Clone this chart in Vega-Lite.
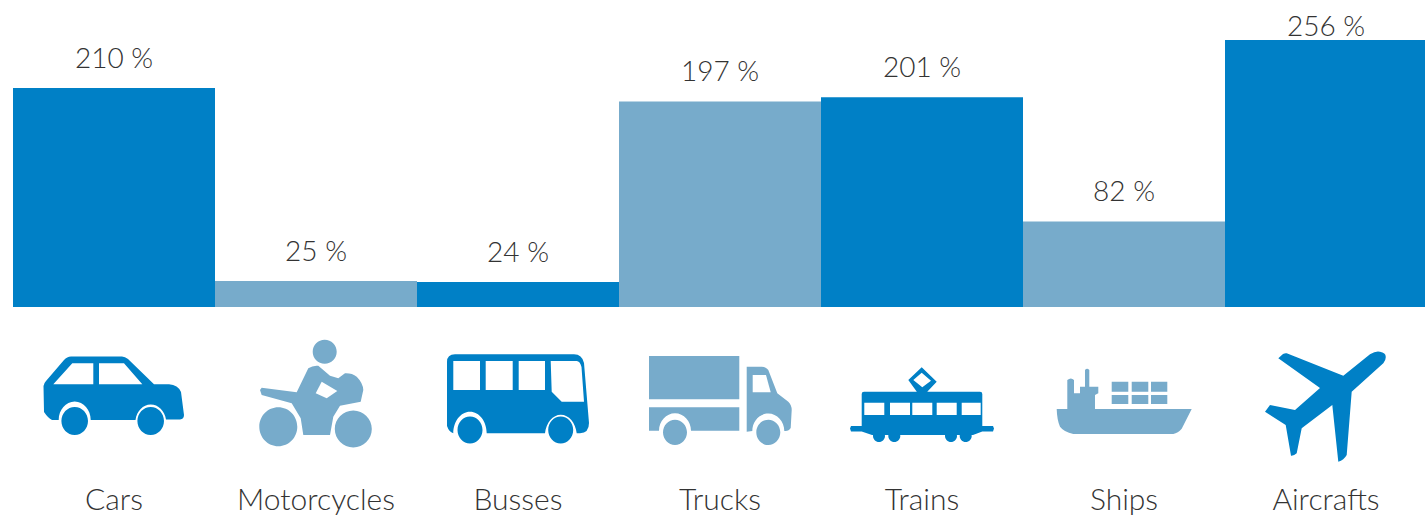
{
  "$schema": "https://vega.github.io/schema/vega-lite/v6.json",
  "autosize": {"type": "none"},
  "padding": {"left": 0, "top": 0, "right": 0, "bottom": 212},
  "width": 1425,
  "height": 307,
  "background": "#ffffff",
  "view": {"stroke": null},
  "data": {
    "values": [
      {"category": "Cars", "value": 210, "label": "210 %"},
      {"category": "Motorcycles", "value": 25, "label": "25 %"},
      {"category": "Busses", "value": 24, "label": "24 %"},
      {"category": "Trucks", "value": 197, "label": "197 %"},
      {"category": "Trains", "value": 201, "label": "201 %"},
      {"category": "Ships", "value": 82, "label": "82 %"},
      {"category": "Aircrafts", "value": 256, "label": "256 %"}
    ]
  },
  "encoding": {
    "x": {
      "field": "category",
      "type": "nominal",
      "sort": null,
      "scale": {"range": [13, 1427], "paddingInner": 0, "paddingOuter": 0, "round": false},
      "axis": {
        "title": null,
        "domain": false,
        "ticks": false,
        "grid": false,
        "labelAngle": 0,
        "labelPadding": 193,
        "labelFont": "Lato",
        "labelFontSize": 30,
        "labelFontWeight": 300,
        "labelColor": "#333333",
        "labelOverlap": false,
        "labelBaseline": "middle"
      }
    },
    "color": {
      "field": "category",
      "type": "nominal",
      "legend": null,
      "scale": {
        "domain": ["Cars", "Motorcycles", "Busses", "Trucks", "Trains", "Ships", "Aircrafts"],
        "range": ["#0080c6", "#77abcb", "#0080c6", "#77abcb", "#0080c6", "#77abcb", "#0080c6"]
      }
    }
  },
  "layer": [
    {
      "mark": {"type": "bar"},
      "encoding": {
        "y": {
          "field": "value",
          "type": "quantitative",
          "axis": null,
          "scale": {"domain": [0, 294.3], "nice": false, "zero": false}
        }
      }
    },
    {
      "transform": [{"filter": "datum.category !== 'Aircrafts'"}],
      "mark": {"type": "text", "font": "Lato", "fontSize": 28, "fontWeight": 300, "baseline": "middle", "dy": -28},
      "encoding": {
        "y": {"field": "value", "type": "quantitative"},
        "text": {"field": "label"},
        "color": {"value": "#333333"}
      }
    },
    {
      "transform": [{"filter": "datum.category === 'Aircrafts'"}],
      "mark": {"type": "text", "font": "Lato", "fontSize": 28, "fontWeight": 300, "baseline": "middle", "dy": -12},
      "encoding": {
        "y": {"field": "value", "type": "quantitative"},
        "text": {"field": "label"},
        "color": {"value": "#333333"}
      }
    },
    {
      "mark": {"type": "point", "filled": true, "size": 4, "opacity": 1, "strokeWidth": 0, "clip": false},
      "encoding": {
        "y": {"datum": -89.2, "type": "quantitative"},
        "shape": {
          "field": "category",
          "type": "nominal",
          "legend": null,
          "scale": {
            "domain": ["Cars", "Motorcycles", "Busses", "Trucks", "Trains", "Ships", "Aircrafts"],
            "range": [
              "M-70.5,-14Q-70,-17 -68,-19L-50,-40Q-47,-43.5 -43,-43.5L8,-43.5Q11,-43.5 14,-41L40,-15.7L55,-15.7Q64,-15 67,-8L70,15Q70,19 66,19.5L52,19.5A15.5,18.5 0 0 0 21.5,20L-23.3,20A16,18.5 0 0 0 -55.3,20L-62,20Q-66,18 -70,12ZM-52.6,21A13.3,14 0 1 1 -26,21A13.3,14 0 1 1 -52.6,21ZM23.4,21A13.3,14 0 1 1 50,21A13.3,14 0 1 1 23.4,21Z",
              "M-56,-10L-54.3,-12.3L-19.3,-7.7L-7.7,-31.7Q-3,-35 2.3,-34.3L14,-24.3L22.3,-21.7L29,-26.7Q36,-27 40.7,-23.3Q47,-17 47.3,-10L44.7,1.7L24,5.7L17.3,16.7L14,35L-12.7,35L-15.3,18.3L-24.3,3.3L-54.3,-5ZM-3.3,-48.3A12,12 0 1 1 20.7,-48.3A12,12 0 1 1 -3.3,-48.3ZM-56.7,26.7A19,19.5 0 1 1 -18.7,26.7A19,19.5 0 1 1 -56.7,26.7ZM18.8,29A18.5,18.5 0 1 1 55.8,29A18.5,18.5 0 1 1 18.8,29Z",
              "M-71,-38Q-71,-45.7 -63,-45.7L56,-45.7Q64,-45.7 66,-37L71,23Q71,33 62,33.3L58.7,33.3A16,21.6 0 0 0 27,33.3L-31.3,33.3A16.7,21.6 0 0 0 -64.7,33.3Q-69,32 -71,26ZM-60.5,30A12.5,13.5 0 1 1 -35.5,30A12.5,13.5 0 1 1 -60.5,30ZM30.2,30A12.5,13.5 0 1 1 55.2,30A12.5,13.5 0 1 1 30.2,30Z",
              "M-71,-44L19.3,-44L19.3,-0.7L-71,-0.7ZM-71,7.3L19.3,7.3L19.3,30.7L-29,30.7A16,17.5 0 0 0 -61,30.7L-71,30.7ZM26.7,-33.3L41.7,-33.3Q46,-33.3 48.3,-30L57.3,-6.7L68.3,1.7Q71.7,5 71.7,10L70.7,28Q69,31 65.5,31L64.3,31A16,17.5 0 0 0 32.3,31L26.7,31.7ZM-57,32.3A12,12.7 0 1 1 -33,32.3A12,12.7 0 1 1 -57,32.3ZM36.3,32.3A12,12.7 0 1 1 60.3,32.3A12,12.7 0 1 1 36.3,32.3Z",
              "M-58,-8.3L58,-8.3Q60.3,-8.3 60.3,-6L60.3,26L71,26L72,28.5L71,31.5L60.3,31.5L51,35L-50,35L-60.3,31.5L-71,31.5L-72,28.5L-71,26L-60.3,26L-60.3,-6Q-60.3,-8.3 -58,-8.3ZM-5,-8L-13.7,-20L-0.3,-32.7L14.7,-18.3L5,-8ZM-49,36A6,6 0 1 1 -37,36A6,6 0 1 1 -49,36ZM-33.7,36A6,6 0 1 1 -21.7,36A6,6 0 1 1 -33.7,36ZM23,36A6,6 0 1 1 35,36A6,6 0 1 1 23,36ZM37.7,36A6,6 0 1 1 49.7,36A6,6 0 1 1 37.7,36Z",
              "M-67.3,9L-56.7,9L-56.7,-20Q-53,-23 -50,-20L-50,-6.7L-44,-6.7L-44,-13.3L-39,-13.3L-39,-30Q-37,-32.5 -34.7,-30L-34.7,-13.3L-25.7,-13.3L-25.7,-6.7L-29,-5L-29,9L67.7,9L57.7,28.7Q54,33 49.3,34L-50.7,34Q-60,32 -64,26.7Q-67,20 -67.3,9ZM-12.3,-18.3L4.3,-18.3L4.3,-8.3L-12.3,-8.3ZM7.7,-18.3L24.3,-18.3L24.3,-8.3L7.7,-8.3ZM27,-18.3L43.3,-18.3L43.3,-8.3L27,-8.3ZM-12.3,-5L4.3,-5L4.3,4L-12.3,4ZM7.7,-5L24.3,-5L24.3,4L7.7,4ZM27,-5L43.3,-5L43.3,4L27,4Z",
              "M-47.7,-41.7L-43,-46Q-41,-47 -39.3,-46.7L17.3,-24.3L44,-45.7Q50,-49.5 54,-48.3Q60,-47 59.7,-43.3Q60,-40 57.3,-36.7L25.7,-8.3L20.7,55Q18,60 12.3,61.7L6.3,5L-24.3,28.3L-29.3,53.3Q-32,56 -35,55.7L-40.3,25L-61,11.7L-56,5L-31,10L-6,-12Z"
            ]
          }
        }
      }
    },
    {
      "mark": {"type": "point", "filled": true, "size": 4, "opacity": 1, "strokeWidth": 0, "clip": false},
      "encoding": {
        "y": {"datum": -89.2, "type": "quantitative"},
        "color": {"value": "#ffffff"},
        "shape": {
          "field": "category",
          "type": "nominal",
          "legend": null,
          "scale": {
            "domain": ["Cars", "Motorcycles", "Busses", "Trucks", "Trains", "Ships", "Aircrafts"],
            "range": [
              "M-60.7,-15.7L-41.7,-36.7L-20.7,-36.7L-20.7,-15.7ZM-15,-36.7L10,-36.7L28.3,-15.7L-15,-15.7Z",
              "M5.7,-18.3L21.3,-9L10.7,-1.7L-0.3,-6.7Z",
              "M-64.7,-39L-38,-39L-38,-10L-64.7,-10ZM-32.3,-39L-5.3,-39L-5.3,-10L-32.3,-10ZM0.7,-39L27,-39L27,-10L0.7,-10ZM32.7,-39L58.7,-39Q62,-39 63.5,-33L66,1.7L43.7,1.7L33.7,-8.3Z",
              "M32.7,-25L46,-25L50.7,-7.7L32.7,-7.7Z",
              "M-57.7,2.7L-37.7,2.7L-37.7,15L-57.7,15ZM-32,2.7L-12,2.7L-12,15L-32,15ZM-9.7,2.7L10.3,2.7L10.3,15L-9.7,15ZM14.7,2.7L34.7,2.7L34.7,15L14.7,15ZM39.7,2.7L58.7,2.7L58.7,15L39.7,15ZM-0.3,-27.3L9,-19.3L0.3,-12.7L-8.7,-20Z",
              "M0,0Z",
              "M0,0Z"
            ]
          }
        }
      }
    }
  ],
  "resolve": {"scale": {"shape": "independent"}}
}
